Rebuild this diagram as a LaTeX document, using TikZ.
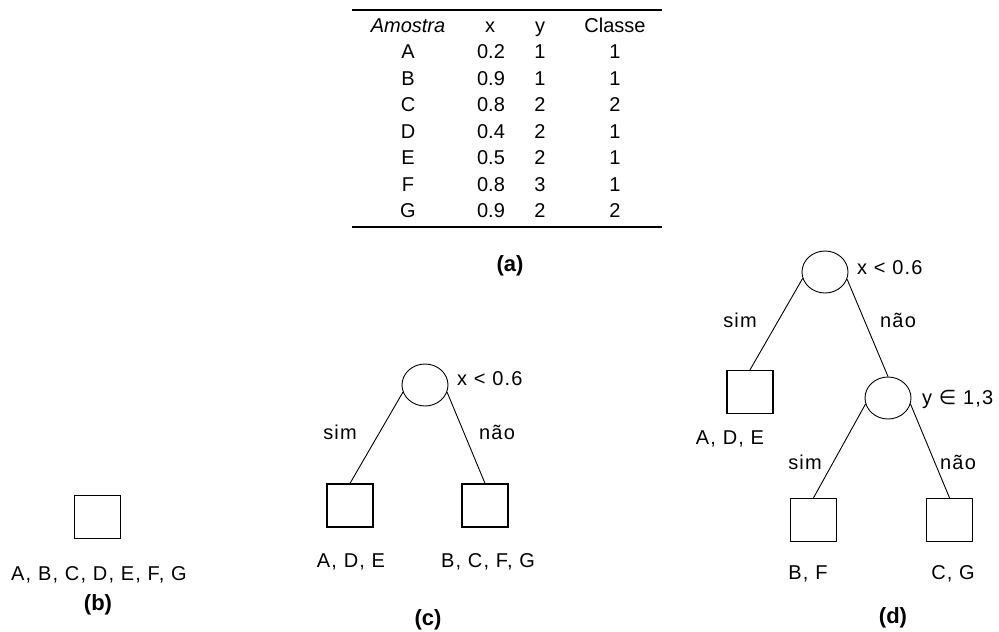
\documentclass[tikz,border=0pt]{standalone}
\usepackage{fontspec}
\setmainfont{Liberation Sans}
\newfontfamily\symfont{DejaVu Sans}
\usetikzlibrary{shapes.geometric}
\begin{document}
\begin{tikzpicture}[x=1pt,y=-1pt,
  txt/.style={inner sep=0pt, font=\fontsize{20}{24}\selectfont\addfontfeature{LetterSpace=6}, text height=14pt, text depth=0pt},
  ttxt/.style={inner sep=0pt, font=\fontsize{20}{24}\selectfont, text height=14pt, text depth=0pt},
  figlabel/.style={inner sep=0pt, font=\fontsize{22}{26}\selectfont\bfseries, text height=15pt, text depth=4pt},
  leaf/.style={draw, line width=1.3pt, minimum width=46pt, minimum height=43pt, inner sep=0pt},
  test/.style={draw, ellipse, line width=0.9pt, minimum width=46pt, minimum height=42pt, inner sep=0pt},
  branch/.style={line width=0.9pt},
  tabrule/.style={line width=2.6pt}]
\useasboundingbox (0,0) rectangle (999,632);

% ---------- (a) table ----------
\coordinate (tl) at (352,10);
\coordinate (tr) at (662,10);
\coordinate (bl) at (352,227);
\coordinate (br) at (662,227);
\draw[tabrule] (tl) -- (tr);
\draw[tabrule] (bl) -- (br);
\node[ttxt] (h1) at (408,25) {\itshape Amostra};
\node[ttxt] (h2) at (490,25) {x};
\node[ttxt] (h3) at (540,25) {y};
\node[ttxt] (h4) at (615,25) {Classe};
\foreach \i/\s/\xv/\yv/\c in {1/A/0.2/1/1, 2/B/0.9/1/1, 3/C/0.8/2/2, 4/D/0.4/2/1, 5/E/0.5/2/1, 6/F/0.8/3/1, 7/G/0.9/2/2}{
  \node[ttxt] (s\i) at (408,25+26.5*\i) {\s};
  \node[ttxt] (x\i) at (491,25+26.5*\i) {\xv};
  \node[ttxt] (y\i) at (540,25+26.5*\i) {\yv};
  \node[ttxt] (c\i) at (615,25+26.5*\i) {\c};
}
\node[figlabel] (capa) at (510,266) {(a)};

% ---------- (b) ----------
\node[leaf] (b0) at (97.5,517) {};
\node[txt] (b0t) at (99,573) {A, B, C, D, E, F, G};
\node[figlabel] (capb) at (98,605) {(b)};

% ---------- (c) ----------
\node[test] (c0) at (425,385) {};
\node[txt, anchor=west] (c0t) at (457,378) {x < 0.6};
\node[leaf] (c1) at (350,505.5) {};
\node[leaf] (c2) at (485,505.5) {};
\draw[branch] (c0.-162) -- (c1.north);
\draw[branch] (c0.-18) -- (c2.north);
\node[txt] (c1l) at (340,432) {sim};
\node[txt] (c2l) at (497,432) {não};
\node[txt] (c1t) at (351,560) {A, D, E};
\node[txt] (c2t) at (488,560) {B, C, F, G};
\node[figlabel] (capc) at (428,620) {(c)};

% ---------- (d) ----------
\node[test] (d0) at (825,272) {};
\node[txt, anchor=west] (d0t) at (857,267) {x < 0.6};
\node[leaf] (d1) at (750,392) {};
\node[test] (d2) at (888,398) {};
\node[txt, anchor=west] (d2t) at (922,397) {y {\symfont ∈} 1,3};
\node[leaf] (d3) at (813.5,520) {};
\node[leaf] (d4) at (949.5,520) {};
\draw[branch] (d0.-164) -- (d1.north);
\draw[branch] (d0.-18) -- (d2.north);
\draw[branch] (d2.-165) -- (d3.north);
\draw[branch] (d2.-15) -- (d4.north);
\node[txt] (d1l) at (740,320) {sim};
\node[txt] (d2l) at (898,320) {não};
\node[txt] (d3l) at (805,462) {sim};
\node[txt] (d4l) at (958,462) {não};
\node[txt] (d1t) at (730,437) {A, D, E};
\node[txt] (d3t) at (808,572) {B, F};
\node[txt] (d4t) at (953,572) {C, G};
\node[figlabel] (capd) at (893,618) {(d)};
\end{tikzpicture}
\end{document}
